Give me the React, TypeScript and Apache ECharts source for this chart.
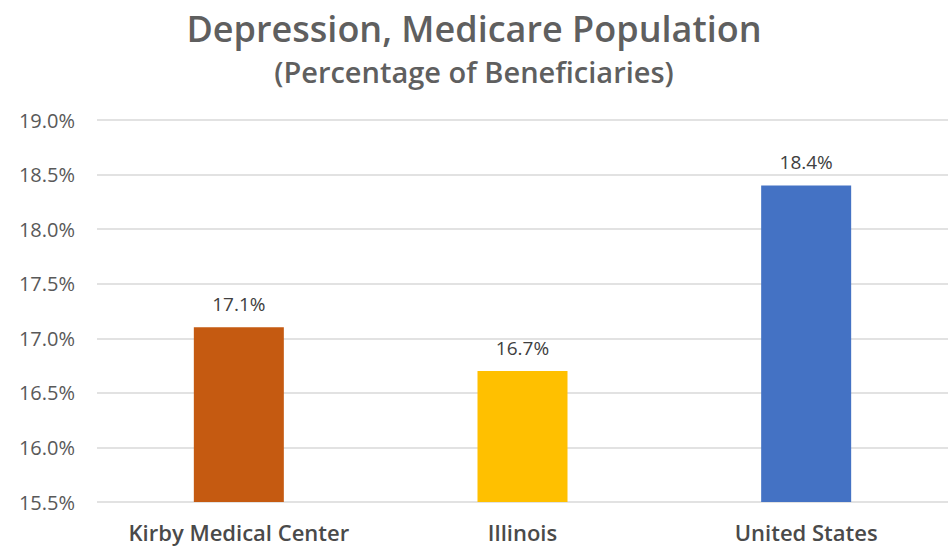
import React, { useEffect, useRef } from "react";
import * as echarts from "echarts";

const categories = ["Kirby Medical Center", "Illinois", "United States"];
const values = [17.1, 16.7, 18.4];
const barColors = ["#C55A11", "#FFC000", "#4472C4"];
const titleText = "Depression, Medicare Population";
const subtitleText = "(Percentage of Beneficiaries)";

const FONT = "Open Sans";

export default function App() {
  const ref = useRef<HTMLDivElement>(null);
  useEffect(() => {
    const chart = echarts.init(ref.current!, null, { renderer: "svg" });
    chart.setOption({
      animation: false,
      backgroundColor: "#ffffff",
      title: [
        {
          text: titleText,
          left: "center",
          top: 5,
          textStyle: { fontFamily: FONT, fontSize: 36, fontWeight: 600, color: "#5f5f5f" },
        },
        {
          text: subtitleText,
          left: "center",
          top: 52,
          textStyle: { fontFamily: FONT, fontSize: 29, fontWeight: 600, color: "#5f5f5f" },
        },
      ],
      grid: { left: 97, right: -5.5, top: 120, bottom: 55, containLabel: false },
      xAxis: {
        type: "category",
        data: categories,
        axisLine: { show: false },
        axisTick: { show: false },
        axisLabel: {
          interval: 0,
          hideOverlap: false,
          fontFamily: FONT,
          fontSize: 22,
          fontWeight: 600,
          color: "#4a4a4a",
          margin: 19,
        },
      },
      yAxis: {
        type: "value",
        min: 15.5,
        max: 19,
        interval: 0.5,
        axisLine: { show: false },
        axisTick: { show: false },
        splitLine: { lineStyle: { color: "#D9D9D9", width: 1.5 } },
        axisLabel: {
          fontFamily: FONT,
          fontSize: 20,
          color: "#595959",
          margin: 22,
          formatter: (v: number) => v.toFixed(1) + "%",
        },
      },
      series: [
        {
          type: "bar",
          barWidth: 90,
          data: values.map((v, i) => ({ value: v, itemStyle: { color: barColors[i] } })),
          label: {
            show: true,
            position: "top",
            distance: 14,
            fontFamily: FONT,
            fontSize: 19,
            color: "#404040",
            formatter: (p: any) => p.value.toFixed(1) + "%",
          },
        },
      ],
    });
    return () => chart.dispose();
  }, []);
  return (
    <div
      ref={ref}
      style={{ position: "fixed", left: 0, top: 0, width: 948, height: 557 }}
    />
  );
}
